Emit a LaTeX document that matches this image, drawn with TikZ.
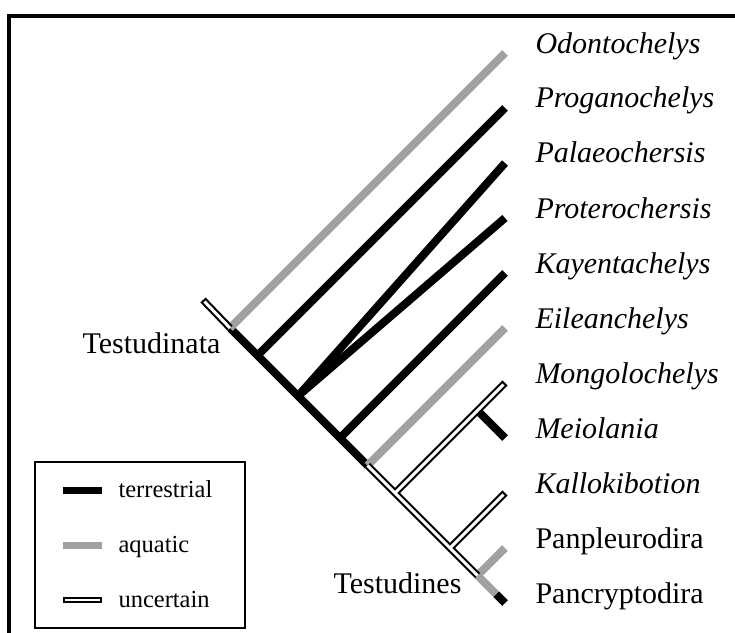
\documentclass[tikz,border=0pt]{standalone}
\usepackage{fontspec}
\setmainfont{Liberation Serif}
\begin{document}
\begin{tikzpicture}[x=0.4pt,y=-0.4pt]
    \tikzset{terr/.style = {line width=3.2pt,draw=black},
             aqua/.style = {line width=3.2pt,draw=black!37},
             uncout/.style = {line width=2.9pt,draw=black},
             uncin/.style = {line width=1.2pt,draw=white},
             taxon/.style = {anchor=base west,inner sep=0pt,font=\fontsize{12}{14}\selectfont},
             key/.style = {anchor=base west,inner sep=0pt,font=\fontsize{9.8}{11}\selectfont}}
    \useasboundingbox (0,0) rectangle (735,633);
    \draw[line width=1.4pt] (9,640) -- (9,16) -- (740,16);
    % taxa on the right
    \foreach \t [count=\i from 0] in {\textit{Odontochelys},\textit{Proganochelys},\textit{Palaeochersis},
        \textit{Proterochersis},\textit{Kayentachelys},\textit{Eileanchelys},\textit{Mongolochelys},
        \textit{Meiolania},\textit{Kallokibotion},Panpleurodira,Pancryptodira}{
        \coordinate (tip\i) at (505,53+55*\i);
        \node[taxon] (lab\i) at (535,53+55*\i) {\t};
    }
    % nodes on the backbone
    \coordinate (root) at (203,300);
    \coordinate (n0) at (230,328);
    \coordinate (n1) at (257.5,355.5);
    \coordinate (pp) at (298,396);
    \coordinate (n4) at (340,438);
    \coordinate (n5) at (367.5,465.5);
    \coordinate (n6) at (395,493);
    \coordinate (meio) at (477.5,410.5);
    \coordinate (n8) at (450,548);
    \coordinate (n9) at (477.5,575.5);
    \coordinate (pc) at (496,594);
    \node[taxon] (tdata) at (82,353) {Testudinata};
    \node[taxon] (tdines) at (333,593) {Testudines};
    % terrestrial and aquatic branches
    \draw[terr] (n0) -- (n5);
    \foreach \a/\b in {n1/tip1,pp/tip2,pp/tip3,n4/tip4,meio/tip7,pc/tip10}
        \draw[terr] (\a) -- (\b);
    \foreach \a/\b in {n0/tip0,n5/tip5,n9/tip9,n9/pc}
        \draw[aqua] (\a) -- (\b);
    % uncertain branches
    \foreach \a/\b in {root/n0,n5/n9,n6/tip6,n8/tip8}
        \draw[uncout] (\a) -- (\b);
    \draw[uncin,shorten <=0.85pt] (root) -- (n0);
    \draw[uncin] (n5) -- (n9);
    \draw[uncin,shorten >=0.85pt] (n6) -- (tip6);
    \draw[uncin,shorten >=0.85pt] (n8) -- (tip8);
    % legend
    \draw[line width=0.5pt] (35,462) rectangle (245,628);
    \draw[terr,line width=2.8pt] (63,490) -- (102,490);
    \draw[aqua,line width=2.8pt] (63,545) -- (102,545);
    \draw[uncout,line width=2.6pt] (63,600) -- (102,600);
    \draw[uncin,line width=1pt,shorten <=0.8pt,shorten >=0.8pt] (63,600) -- (102,600);
    \node[key] (kterr) at (118,497) {terrestrial};
    \node[key] (kaqua) at (118,552) {aquatic};
    \node[key] (kunc) at (118,607) {uncertain};
\end{tikzpicture}
\end{document}
